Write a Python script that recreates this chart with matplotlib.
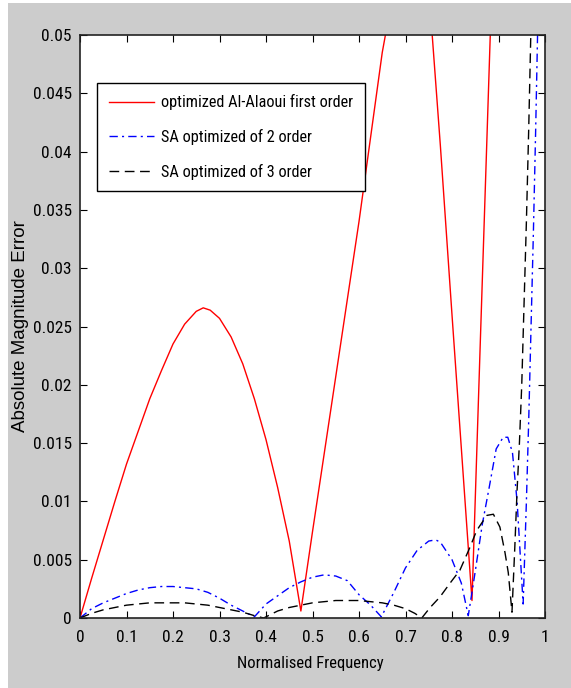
import numpy as np
import matplotlib
matplotlib.use('Agg')
import matplotlib.pyplot as plt
from matplotlib.patches import Rectangle

# red: optimized Al-Alaoui first order
f_red = [0, 0.025, 0.05, 0.075, 0.1, 0.125, 0.15, 0.175, 0.2, 0.225, 0.25, 0.265,
         0.28, 0.3, 0.325, 0.35, 0.375, 0.4, 0.425, 0.45, 0.475, 0.5, 0.55, 0.6,
         0.65, 0.675, 0.7, 0.725, 0.75, 0.775, 0.8, 0.82, 0.843, 0.86, 0.875, 0.89]
e_red = [0, 0.0034, 0.0067, 0.0100, 0.0132, 0.0160, 0.0188, 0.0212, 0.0235, 0.0252,
         0.0263, 0.0266, 0.0264, 0.0257, 0.0241, 0.0218, 0.0188, 0.0153, 0.0112,
         0.0066, 0.0006, 0.0074, 0.0207, 0.0340, 0.0485, 0.054, 0.057, 0.058,
         0.054, 0.0405, 0.0260, 0.0146, 0.0015, 0.0226, 0.041, 0.0595]

# blue: SA optimized of 2 order
f_blue = [0, 0.025, 0.05, 0.075, 0.1, 0.125, 0.15, 0.175, 0.2, 0.225, 0.25, 0.275,
          0.3, 0.325, 0.35, 0.375, 0.4, 0.425, 0.45, 0.475, 0.5, 0.525, 0.55,
          0.575, 0.6, 0.625, 0.648, 0.675, 0.7, 0.725, 0.75, 0.765, 0.775, 0.8,
          0.82, 0.835, 0.85, 0.865, 0.88, 0.895, 0.91, 0.92, 0.93, 0.94, 0.953,
          0.96, 0.965, 0.97, 0.975, 0.98, 0.985]
e_blue = [0, 0.0008, 0.0013, 0.0017, 0.0021, 0.0024, 0.0026, 0.0027, 0.0027, 0.0026,
          0.0025, 0.0022, 0.0017, 0.0011, 0.0006, 0.0001, 0.0012, 0.0019, 0.0026,
          0.0031, 0.0035, 0.0037, 0.0036, 0.0032, 0.0020, 0.0011, 0.0001, 0.0022,
          0.0043, 0.0058, 0.0066, 0.0067, 0.0065, 0.0050, 0.0030, 0.0002, 0.0040,
          0.0080, 0.0112, 0.0145, 0.0155, 0.0155, 0.0142, 0.0100, 0.0012, 0.0100,
          0.0170, 0.0250, 0.0330, 0.0420, 0.0520]

# black: SA optimized of 3 order
f_black = [0, 0.025, 0.05, 0.075, 0.1, 0.125, 0.15, 0.175, 0.2, 0.225, 0.25, 0.275,
           0.3, 0.325, 0.35, 0.375, 0.395, 0.425, 0.45, 0.475, 0.5, 0.525, 0.55,
           0.575, 0.6, 0.625, 0.65, 0.675, 0.7, 0.72, 0.735, 0.753, 0.774, 0.796,
           0.817, 0.839, 0.853, 0.875, 0.889, 0.903, 0.914, 0.921, 0.929, 0.935,
           0.94, 0.945, 0.95, 0.955, 0.96, 0.965, 0.97]
e_black = [0, 0.0004, 0.0007, 0.0009, 0.0011, 0.0012, 0.0013, 0.0013, 0.0013, 0.0013,
           0.0012, 0.0011, 0.0009, 0.0007, 0.0005, 0.0002, 0.0, 0.0006, 0.0009,
           0.0011, 0.0013, 0.0014, 0.0015, 0.0015, 0.0015, 0.0014, 0.0013, 0.0011,
           0.0008, 0.0004, 0.0, 0.0009, 0.0018, 0.0030, 0.0041, 0.0061, 0.0075,
           0.0088, 0.0089, 0.0078, 0.0056, 0.0039, 0.0005, 0.0060, 0.0110, 0.0150,
           0.0200, 0.0270, 0.0340, 0.0420, 0.0510]

labels = ['optimized Al-Alaoui first order', 'SA optimized of 2 order',
          'SA optimized of 3 order']
xticks = np.arange(0, 1.01, 0.1)
yticks = np.arange(0, 0.0501, 0.005)
xtick_labels = ['0', '0.1', '0.2', '0.3', '0.4', '0.5', '0.6', '0.7', '0.8', '0.9', '1']
ytick_labels = ['0', '0.005', '0.01', '0.015', '0.02', '0.025', '0.03', '0.035',
                '0.04', '0.045', '0.05']

narrow = ['Liberation Sans Narrow', 'Arial Narrow', 'Roboto Condensed',
          'PT Sans Narrow', 'Archivo Narrow', 'Liberation Sans', 'DejaVu Sans']
plt.rcParams['font.family'] = narrow

fig = plt.figure(figsize=(5.71, 6.88), dpi=100, facecolor='white')
# grey matlab figure area
bg = Rectangle((8 / 571, 0), 1, 1 - 3 / 688, transform=fig.transFigure,
               facecolor='#cccccc', edgecolor='none', zorder=-10)
fig.patches.append(bg)

ax = fig.add_axes([80 / 571, 1 - 618 / 688, 465 / 571, 583 / 688])
ax.set_zorder(5)
ax.plot(f_red, e_red, color='red', lw=1.0, label=labels[0])
ax.plot(f_blue, e_blue, color='blue', lw=1.0, ls=(0, (6, 3, 1.5, 3)), label=labels[1])
ax.plot(f_black, e_black, color='black', lw=1.0, ls=(0, (7, 4)), label=labels[2])

ax.set_xlim(0, 1)
ax.set_ylim(0, 0.05)
ax.set_xticks(xticks)
ax.set_xticklabels(xtick_labels)
ax.set_yticks(yticks)
ax.set_yticklabels(ytick_labels)
ax.tick_params(direction='in', length=5, top=True, right=True, labelsize=12.5,
               colors='black', pad=9)
ax.tick_params(axis='y', pad=6)
for s in ax.spines.values():
    s.set_linewidth(1.2)
    s.set_color('#222222')

ax.set_xlabel('Normalised Frequency', fontsize=12)
ax.xaxis.set_label_coords(0.495, -0.066)
ax.set_ylabel('Absolute Magnitude Error', fontsize=13.5,
              family=['Liberation Sans', 'DejaVu Sans'])
ax.yaxis.set_label_coords(-0.11, 0.5)

leg = ax.legend(loc='upper left', bbox_to_anchor=(0.037, 0.918), fontsize=11.7,
                fancybox=False, framealpha=1, edgecolor='black', handlelength=2.8,
                borderaxespad=0, labelspacing=1.15, borderpad=0.7, handletextpad=0.45)
leg.get_frame().set_linewidth(1.0)

fig.savefig('out.png', dpi=100, facecolor=fig.get_facecolor())
